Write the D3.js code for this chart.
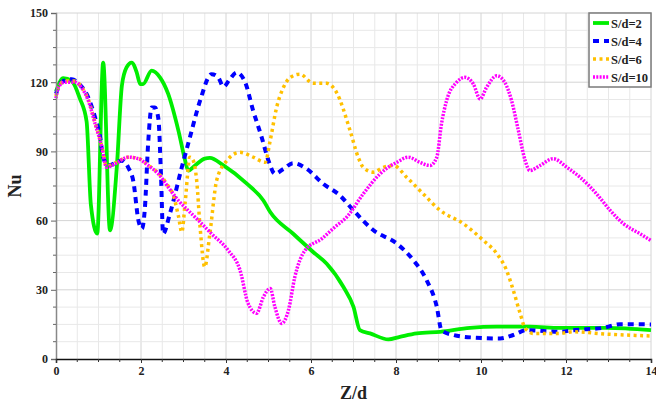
<!DOCTYPE html>
<html>
<head>
<meta charset="utf-8">
<script src="https://cdn.jsdelivr.net/npm/d3@7/dist/d3.min.js"></script>
<style>
  html, body { margin: 0; padding: 0; background: #fff; }
  svg { display: block; }
  text { font-family: "Liberation Serif", "Times New Roman", serif; font-weight: bold; }
</style>
</head>
<body>
<svg id="chart" width="656" height="405"></svg>
<script>
// Local Nusselt number along the wall for four spacing ratios
const seriesNames = ["S/d=2", "S/d=4", "S/d=6", "S/d=10"];

const zS2 = [0, 0.17, 0.37, 0.56, 0.72, 0.82, 0.97, 1.11, 1.27, 1.43, 1.55, 1.66, 1.78, 1.90, 1.98, 2.05, 2.25, 2.45, 2.64, 2.88, 3.04, 3.11, 3.27, 3.5, 3.62, 3.94, 4.49, 4.88, 5.04, 5.58, 6.05, 6.37, 6.76, 7.0, 7.15, 7.39, 7.82, 8.09, 8.49, 9.04, 9.74, 10.37, 11.15, 11.86, 12.96, 14];
const nuS2 = [116, 121.8, 120.6, 113, 103, 67, 54.4, 128.5, 55.8, 83, 118.5, 126.4, 128.5, 124.2, 119.2, 119.2, 125, 122, 114.9, 99, 86, 81.7, 83.9, 86.9, 87.2, 83.9, 76, 68.7, 63.7, 54.3, 46.4, 41.3, 31.3, 22.6, 12.5, 11.1, 8.5, 9.6, 11.1, 11.8, 13.5, 14, 14, 13.5, 13.5, 12.5];

const zS4 = [0, 0.13, 0.37, 0.56, 0.72, 0.92, 1.04, 1.11, 1.23, 1.55, 1.7, 1.82, 1.94, 2.02, 2.09, 2.17, 2.25, 2.33, 2.41, 2.47, 2.52, 2.68, 2.96, 3.15, 3.39, 3.66, 3.82, 3.94, 4.09, 4.25, 4.45, 4.64, 4.84, 5.0, 5.15, 5.35, 5.58, 5.9, 6.29, 6.68, 7.0, 7.47, 8.02, 8.41, 8.72, 8.96, 9.07, 9.35, 9.82, 10.45, 10.76, 11.07, 11.86, 12.17, 12.87, 13.27, 14];
const nuS4 = [115, 120, 121.3, 119, 114.9, 104.7, 96, 87.5, 83.9, 86, 83, 77, 60, 56.5, 65, 94, 109, 109, 104, 80, 54.3, 63, 83.1, 96, 112, 123.5, 122, 118, 121.3, 124.2, 120, 107.6, 96.1, 86, 80.3, 82.4, 84.9, 82.4, 75.9, 70.9, 64.4, 55.8, 50, 42.8, 34.2, 22.6, 12.5, 10.4, 9.3, 8.9, 10.4, 12.5, 11.8, 12.5, 13.5, 15.1, 15];

const zS6 = [0, 0.05, 0.21, 0.45, 0.6, 0.76, 0.92, 1.08, 1.19, 1.39, 1.7, 1.94, 2.17, 2.41, 2.64, 2.76, 2.88, 2.96, 3.04, 3.15, 3.23, 3.31, 3.39, 3.5, 3.62, 3.78, 4.02, 4.33, 4.64, 4.92, 5.04, 5.19, 5.35, 5.51, 5.74, 6.05, 6.37, 6.6, 6.92, 7.11, 7.23, 7.47, 7.7, 7.94, 8.25, 8.64, 9.04, 9.58, 10.05, 10.37, 10.6, 10.76, 10.92, 11.04, 11.23, 11.86, 12.17, 12.96, 14];
const nuS6 = [114, 117.5, 120.5, 120.5, 118, 112.5, 102.5, 92, 83.5, 85, 87.5, 87, 84, 80.5, 75, 71, 62, 55, 68, 87.5, 86, 77.4, 57.2, 39.9, 54.3, 77.4, 86, 89.6, 87.5, 85.3, 94.7, 109, 117.7, 122, 123.5, 119.5, 119.5, 115.6, 99, 87.5, 83.1, 81, 83.1, 83.9, 78.8, 71.6, 64.4, 58.7, 51.5, 45.7, 38.5, 29.8, 19.8, 13.3, 11.1, 11.1, 11.8, 10.8, 10];

const zS10 = [0, 0.05, 0.21, 0.45, 0.6, 0.76, 0.92, 1.08, 1.19, 1.39, 1.7, 1.94, 2.17, 2.41, 2.64, 2.88, 3.11, 3.35, 3.66, 4.05, 4.33, 4.52, 4.72, 4.88, 5.04, 5.15, 5.31, 5.47, 5.62, 5.86, 6.25, 6.56, 6.84, 7.23, 7.62, 8.02, 8.29, 8.56, 8.8, 8.96, 9.07, 9.19, 9.43, 9.62, 9.82, 9.98, 10.13, 10.37, 10.56, 10.72, 10.88, 11.04, 11.15, 11.39, 11.7, 12.02, 12.33, 12.72, 13.04, 13.35, 13.74, 14];
const nuS10 = [113, 117.7, 120, 120, 117.7, 112, 102, 91.8, 83.1, 84.6, 87.5, 86.8, 83.9, 80.2, 74.5, 68.7, 64.4, 60.1, 54.3, 47.1, 38.5, 24.1, 19.8, 26.9, 30.6, 22.6, 15.4, 21.2, 35.6, 47.1, 52.1, 57.2, 61.5, 71.6, 80.2, 85.3, 87.5, 85.3, 83.9, 87.5, 101.9, 112, 120, 122.1, 119.2, 112.7, 117.7, 122.8, 119.9, 112, 99, 86, 81.7, 83.9, 86.8, 83.1, 78.8, 71.6, 64.4, 58.7, 54.3, 51.4];

const xTicks = [0, 2, 4, 6, 8, 10, 12, 14];
const yTicks = [0, 30, 60, 90, 120, 150];

const series = [
  { name: seriesNames[0], z: zS2,  nu: nuS2,  color: "#00ee00", width: 3.8, dash: null },
  { name: seriesNames[1], z: zS4,  nu: nuS4,  color: "#0000ff", width: 4,   dash: "6,5" },
  { name: seriesNames[2], z: zS6,  nu: nuS6,  color: "#ffc000", width: 3.5, dash: "3,3.5" },
  { name: seriesNames[3], z: zS10, nu: nuS10, color: "#ff00ff", width: 3.5, dash: "2,1.3" }
];

const W = 656, H = 405;
const margin = { top: 13, right: 5, bottom: 46, left: 56 };
const svg = d3.select("#chart");

const x = d3.scaleLinear().domain([0, 14]).range([margin.left, W - margin.right]);
const y = d3.scaleLinear().domain([0, 150]).range([H - margin.bottom, margin.top]);

// grid: fine lines every 0.5 / 7.5, stronger at the labelled values
const grid = svg.append("g");
grid.selectAll("line.vx").data(d3.range(0.5, 14, 0.5)).join("line")
  .attr("x1", d => x(d)).attr("x2", d => x(d))
  .attr("y1", y(0)).attr("y2", y(150))
  .attr("stroke", d => (d % 2 === 0 ? "#d4d4d4" : "#e8e8e8")).attr("stroke-width", 1);
grid.selectAll("line.hy").data(d3.range(7.5, 151, 7.5)).join("line")
  .attr("x1", x(0)).attr("x2", x(14))
  .attr("y1", d => y(d)).attr("y2", d => y(d))
  .attr("stroke", d => (d % 30 === 0 ? "#d4d4d4" : "#e8e8e8")).attr("stroke-width", 1);
grid.append("line").attr("x1", x(14)).attr("x2", x(14)).attr("y1", y(0)).attr("y2", y(150))
  .attr("stroke", "#d4d4d4");

// curves
const line = d3.line()
  .x(d => x(d[0])).y(d => y(d[1]))
  .curve(d3.curveMonotoneX);

svg.append("g").selectAll("path").data(series).join("path")
  .attr("d", s => line(s.z.map((z, i) => [z, s.nu[i]])))
  .attr("fill", "none")
  .attr("stroke", s => s.color)
  .attr("stroke-width", s => s.width)
  .attr("stroke-dasharray", s => s.dash)
  .attr("stroke-linejoin", "round");

// axes
const yAxis = svg.append("g").attr("transform", `translate(${x(0)},0)`)
  .call(d3.axisLeft(y).tickValues(yTicks).tickSize(5).tickPadding(3));
yAxis.select(".domain").attr("stroke", "#888").attr("stroke-width", 1.5);
yAxis.selectAll(".tick line").attr("stroke", "#666");
yAxis.selectAll("text").attr("font-size", 12).attr("fill", "#222")
  .style("font-family", "'Liberation Serif', serif").style("font-weight", "bold");
svg.append("g").selectAll("line").data(d3.range(7.5, 150, 7.5).filter(d => d % 30 !== 0)).join("line")
  .attr("x1", x(0) - 3).attr("x2", x(0)).attr("y1", d => y(d)).attr("y2", d => y(d))
  .attr("stroke", "#666");

const xAxis = svg.append("g").attr("transform", `translate(0,${y(0)})`)
  .call(d3.axisBottom(x).tickValues(xTicks).tickSize(4).tickPadding(3));
xAxis.select(".domain").attr("stroke", "#111").attr("stroke-width", 1.5);
xAxis.selectAll(".tick line").attr("stroke", "#333");
xAxis.selectAll("text").attr("font-size", 12).attr("fill", "#222")
  .style("font-family", "'Liberation Serif', serif").style("font-weight", "bold");
svg.append("g").selectAll("line").data(d3.range(0.5, 14, 0.5).filter(d => d % 2 !== 0)).join("line")
  .attr("x1", d => x(d)).attr("x2", d => x(d)).attr("y1", y(0)).attr("y2", y(0) + 3)
  .attr("stroke", "#333");

// axis titles
svg.append("text").attr("x", (x(0) + x(14)) / 2).attr("y", 399)
  .attr("text-anchor", "middle").attr("font-size", 18).attr("fill", "#222").text("Z/d");
svg.append("text").attr("transform", `translate(21,${(y(0) + y(150)) / 2}) rotate(-90)`)
  .attr("text-anchor", "middle").attr("font-size", 18).attr("fill", "#222").text("Nu");

// legend
const lg = svg.append("g").attr("transform", "translate(589,13)");
lg.append("rect").attr("width", 62).attr("height", 74)
  .attr("fill", "#fff").attr("stroke", "#7a7a7a").attr("stroke-width", 1.5);
const items = lg.selectAll("g.item").data(series).join("g")
  .attr("transform", (d, i) => `translate(0,${10 + i * 18})`);
items.append("line").attr("x1", 4).attr("x2", 20).attr("y1", 0).attr("y2", 0)
  .attr("stroke", d => d.color).attr("stroke-width", d => d.width)
  .attr("stroke-dasharray", d => d.dash);
items.append("text").attr("x", 22).attr("y", 4.5).attr("font-size", 12.5).attr("fill", "#222")
  .text(d => d.name);
</script>
</body>
</html>
